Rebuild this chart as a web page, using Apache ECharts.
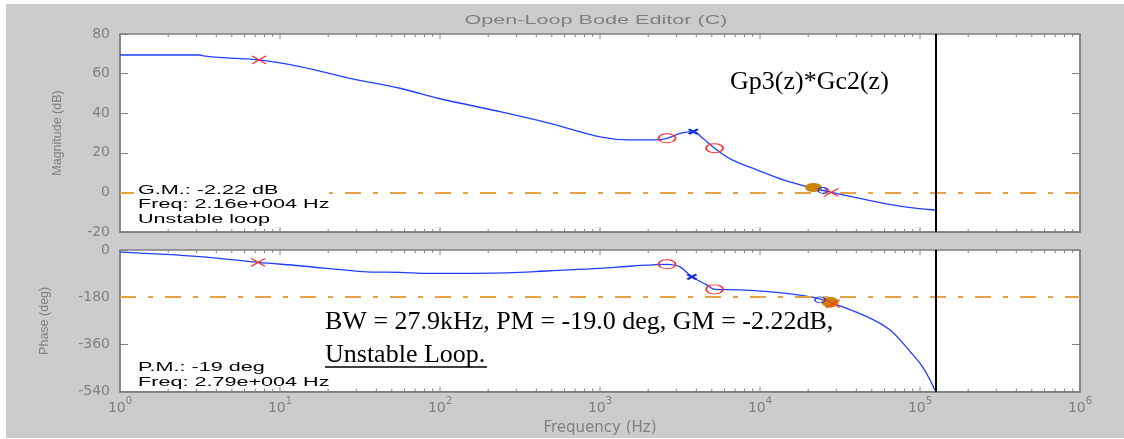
<!DOCTYPE html>
<html><head><meta charset="utf-8">
<script src="https://cdn.jsdelivr.net/npm/echarts@6/dist/echarts.min.js"></script>
<style>
html,body{margin:0;padding:0;background:#fff;width:1124px;height:439px;overflow:hidden}
#c{position:absolute;left:6px;top:4px;width:1118px;height:434px}
</style></head>
<body><div id="c"></div>
<script>
// ---- data ----
const magFreq = [1, 1.78, 3.16, 3.3, 4.66, 7.39, 13.3, 27.4, 56.2, 100, 237, 487, 1000, 1540, 2200, 2623, 3162, 3830, 4390, 5200, 6700, 9600, 14000, 20400, 28000, 46500, 75000, 124000];
const magDb   = [69.4, 69.4, 69.4, 69.0, 67.9, 66.9, 63.5, 57.6, 52.6, 47.3, 40.8, 34.9, 28.1, 26.5, 26.5, 27.3, 29.8, 30.7, 27.3, 22.3, 16.4, 11.3, 6.3, 2.6, 0, -3.8, -6.9, -8.9];
const phFreq  = [1, 3.16, 7.3, 13.3, 35, 56, 86, 262, 487, 1000, 1600, 2623, 3162, 3750, 4650, 5200, 7500, 14600, 21300, 27400, 46500, 65000, 87000, 105000, 124000];
const phDeg   = [-8, -25, -47, -60, -83, -85, -89, -87, -79, -70, -61, -54.5, -64, -102, -133, -150, -152, -165, -180, -199, -254, -305, -388, -450, -534];

// markers (frequency, value)
const magRedX   = [[7.39, 66.9], [27900, 0]];
const magRedO   = [[2623, 27.3], [5200, 22.3]];
const magBlueX  = [[3830, 30.7]];
const magBlueO  = [[24800, 1.0]];
const magOrange = [[21600, 2.5]];
const phRedX    = [[7.3, -47], [28600, -205]];
const phRedO    = [[2623, -54.5], [5200, -150]];
const phBlueX   = [[3750, -102]];
const phBlueO   = [[23700, -190]];
const phOrange  = [[27400, -199]];

const nyquist = 125000;
const gmLine = 0;
const pmLine = -180;

// tick labels
const magTicks = [-20, 0, 20, 40, 60, 80];
const phTicks  = [-540, -360, -180, 0];
const freqExp  = [0, 1, 2, 3, 4, 5, 6];

// ---- build ----
const pairs = (xs, ys) => xs.map((x, i) => [x, ys[i]]);
const fMin = Math.pow(10, freqExp[0]), fMax = Math.pow(10, freqExp[freqExp.length - 1]);
const xTickVals = [];
for (let k = freqExp[0]; k < freqExp[freqExp.length - 1]; k++) {
  for (let m = 1; m <= 9; m++) {
    const v = m * Math.pow(10, k);
    if (v > fMin && v < fMax) xTickVals.push([v, m === 1 ? 1 : 0]);
  }
}
const AX = '#7f7f7f', LBL = '#808080';
const blue = '#1f3fff', red = '#ff2a2a', orange = '#cc8400', dash = '#e4a443';
const dashType = [16, 12, 5, 12];

function yAx(grid, ticks, pos, name, gap) {
  const o = {
    gridIndex: grid, type: 'value', position: pos,
    min: ticks[0], max: ticks[ticks.length - 1], interval: ticks[1] - ticks[0],
    axisLine: {show: true, onZero: false, lineStyle: {color: AX, width: 1.5}},
    axisTick: {show: true, inside: true, length: 8, lineStyle: {color: AX, width: 1}},
    axisLabel: {show: pos === 'left', color: LBL, fontFamily: 'DejaVu Sans', fontSize: 14, margin: 10},
    splitLine: {show: false}
  };
  if (name) {
    o.name = name; o.nameLocation = 'middle'; o.nameGap = gap;
    o.nameTextStyle = {color: LBL, fontFamily: 'Liberation Sans', fontSize: 12.5};
  }
  return o;
}
function xAx(grid, labels) {
  const o = {
    gridIndex: grid, type: 'log', min: fMin, max: fMax,
    axisLine: {show: true, onZero: false, lineStyle: {color: AX, width: 1.5}},
    axisTick: {show: false},
    splitLine: {show: false},
    axisLabel: {show: false}
  };
  if (labels) {
    o.axisLabel = {
      show: true, margin: 5,
      formatter: v => '{b|10}{s|' + Math.round(Math.log10(v)) + '}',
      rich: {
        b: {fontFamily: 'DejaVu Sans', fontSize: 14, color: LBL, lineHeight: 24},
        s: {fontFamily: 'DejaVu Sans', fontSize: 10, color: LBL, lineHeight: 10, verticalAlign: 'top'}
      }
    };
    o.name = 'Frequency (Hz)'; o.nameLocation = 'middle'; o.nameGap = 29;
    o.nameTextStyle = {color: LBL, fontFamily: 'DejaVu Sans', fontSize: 15};
  }
  return o;
}
function line(xi, yi, data, refY) {
  return {
    type: 'line', xAxisIndex: xi, yAxisIndex: yi, data: data, showSymbol: false,
    smooth: 0.35,
    lineStyle: {color: blue, width: 1.3}, z: 2,
    markLine: {
      silent: true, symbol: ['none', 'none'], label: {show: false}, animation: false,
      data: [
        {yAxis: refY, lineStyle: {color: dash, width: 2, type: dashType}},
        {xAxis: nyquist, lineStyle: {color: '#000', width: 2, type: 'solid'}}
      ]
    }
  };
}
const xPath = 'path://M0,0L10,10M0,10L10,0';
function mk(xi, yi, data, symbol, size, fill, stroke, bw, z) {
  return {
    type: 'scatter', xAxisIndex: xi, yAxisIndex: yi, data: data, symbol: symbol, symbolSize: size,
    itemStyle: {color: fill, borderColor: stroke, borderWidth: bw, opacity: 1}, z: z || 4, silent: true
  };
}
function tickSeries(xi, yi, yMinV, yMaxV) {
  return {
    type: 'custom', xAxisIndex: xi, yAxisIndex: yi, silent: true, z: 5,
    data: xTickVals.map(t => [t[0], yMinV, t[1]]),
    encode: {x: 0, y: 1},
    renderItem: (params, api) => {
      const f = api.value(0), major = api.value(2);
      const top = api.coord([f, yMaxV]), bot = api.coord([f, yMinV]);
      const len = major ? 5 : 3;
      const st = {stroke: AX, lineWidth: 1};
      return {type: 'group', children: [
        {type: 'line', shape: {x1: top[0], y1: top[1], x2: top[0], y2: top[1] + len}, style: st},
        {type: 'line', shape: {x1: bot[0], y1: bot[1], x2: bot[0], y2: bot[1] - len}, style: st}
      ]};
    }
  };
}
function txt(x, y, text, size, family, fill, scaleX, align) {
  return {type: 'text', x: x, y: y, scaleX: scaleX || 1, z: 100,
    style: {text: text, fontSize: size, fontFamily: family, fill: fill, align: align || 'left', verticalAlign: 'middle'}};
}
const OX = 6, OY = 4;
const SANS = 'Liberation Sans', SERIF = 'Liberation Serif';

const option = {
  animation: false,
  backgroundColor: '#cccccc',
  grid: [
    {left: 114, top: 30, width: 960, height: 198, show: true, backgroundColor: '#fff', borderColor: AX, borderWidth: 1.5},
    {left: 114, top: 246, width: 960, height: 141.7, show: true, backgroundColor: '#fff', borderColor: AX, borderWidth: 1.5}
  ],
  xAxis: [xAx(0, false), xAx(1, true)],
  yAxis: [
    yAx(0, magTicks, 'left', 'Magnitude (dB)', 56),
    yAx(0, magTicks, 'right'),
    yAx(1, phTicks, 'left', 'Phase (deg)', 69),
    yAx(1, phTicks, 'right')
  ],
  series: [
    line(0, 0, pairs(magFreq, magDb), gmLine),
    line(1, 2, pairs(phFreq, phDeg), pmLine),
    tickSeries(0, 0, magTicks[0], magTicks[magTicks.length - 1]),
    tickSeries(1, 2, phTicks[0], phTicks[phTicks.length - 1]),
    mk(0, 0, magOrange, 'circle', [17, 9], orange, orange, 0, 4),
    mk(0, 0, magBlueO, 'circle', [10, 6], 'rgba(0,0,0,0)', blue, 1.2, 5),
    mk(0, 0, magRedX, xPath, [14, 8], 'rgba(0,0,0,0)', red, 1.2, 6),
    mk(0, 0, magRedO, 'circle', [17, 9], 'rgba(0,0,0,0)', red, 1.3, 6),
    mk(0, 0, magBlueX, xPath, [9, 5], 'rgba(0,0,0,0)', '#1030e0', 2.4, 6),
    mk(1, 2, phOrange, 'circle', [17, 11], orange, orange, 0, 4),
    mk(1, 2, phBlueO, 'circle', [10, 6], 'rgba(0,0,0,0)', blue, 1.2, 5),
    mk(1, 2, phRedX, xPath, [14, 8], 'rgba(0,0,0,0)', red, 1.2, 6),
    mk(1, 2, phRedO, 'circle', [17, 9], 'rgba(0,0,0,0)', red, 1.3, 6),
    mk(1, 2, phBlueX, xPath, [9, 5], 'rgba(0,0,0,0)', '#1030e0', 2.4, 6)
  ],
  graphic: [
    txt(596 - OX, 20 - OY, 'Open-Loop Bode Editor (C)', 13.5, SANS, LBL, 1.6, 'center'),
    {type: 'rect', z: 99, shape: {x: 134 - OX, y: 183 - OY, width: 195, height: 43}, style: {fill: '#fff'}},
    txt(138 - OX, 191 - OY, 'G.M.: -2.22 dB', 12, SANS, '#000', 1.8),
    txt(138 - OX, 205 - OY, 'Freq: 2.16e+004 Hz', 12, SANS, '#000', 1.8),
    txt(138 - OX, 219.5 - OY, 'Unstable loop', 12, SANS, '#000', 1.8),
    txt(138 - OX, 368 - OY, 'P.M.: -19 deg', 12, SANS, '#000', 1.8),
    txt(138 - OX, 382.5 - OY, 'Freq: 2.79e+004 Hz', 12, SANS, '#000', 1.8),
    txt(730 - OX, 82 - OY, 'Gp3(z)*Gc2(z)', 26, SERIF, '#000', 1),
    txt(325 - OX, 322 - OY, 'BW = 27.9kHz, PM = -19.0 deg, GM = -2.22dB,', 26, SERIF, '#000', 1),
    txt(325 - OX, 355 - OY, 'Unstable Loop.', 26, SERIF, '#000', 1),
    {type: 'line', z: 100, shape: {x1: 325 - OX, y1: 367 - OY, x2: 487 - OX, y2: 367 - OY}, style: {stroke: '#000', lineWidth: 1.5}}
  ]
};
const chart = echarts.init(document.getElementById('c'), null, {renderer: 'canvas'});
chart.setOption(option);
</script>
</body></html>
